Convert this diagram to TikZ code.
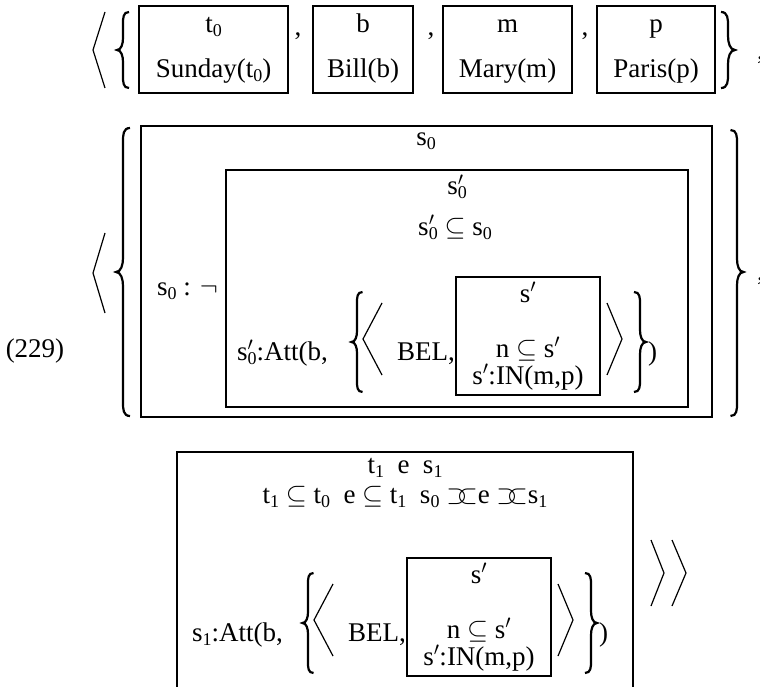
\RequirePackage{fix-cm}
\documentclass[tikz,border=0pt]{standalone}
\usepackage{fontspec}
\setmainfont{Liberation Serif}
\tikzset{
  txt/.style={inner sep=0pt, outer sep=0pt, font=\fontsize{27}{31}\selectfont, anchor=base},
  frame/.style={line width=1.9pt},
  ang/.style={line width=1.2pt, line join=miter},
  brc/.style={line width=2.2pt},
}
\newcommand\braceL[5]{\draw[brc] ({#1+#5},{#2}) .. controls ({#1},{#2}) and ({#1},{#2+#5}) .. ({#1},{#2+2*#5}) -- ({#1},{#3-2*#5}) .. controls ({#1},{#3-#5}) and ({#1-0.3*#5},{#3}) .. ({#1-#5},{#3}) .. controls ({#1-0.3*#5},{#3}) and ({#1},{#3+#5}) .. ({#1},{#3+2*#5}) -- ({#1},{#4-2*#5}) .. controls ({#1},{#4-#5}) and ({#1},{#4}) .. ({#1+#5},{#4});}
\newcommand\braceR[5]{\draw[brc] ({#1-#5},{#2}) .. controls ({#1},{#2}) and ({#1},{#2+#5}) .. ({#1},{#2+2*#5}) -- ({#1},{#3-2*#5}) .. controls ({#1},{#3-#5}) and ({#1+0.3*#5},{#3}) .. ({#1+#5},{#3}) .. controls ({#1+0.3*#5},{#3}) and ({#1},{#3+#5}) .. ({#1},{#3+2*#5}) -- ({#1},{#4-2*#5}) .. controls ({#1},{#4-#5}) and ({#1},{#4}) .. ({#1-#5},{#4});}
\newcommand\ovl{$\supset\mkern-7mu\subset$}
\newcommand\sub[1]{\raisebox{-4pt}{\fontsize{18}{18}\selectfont #1}}
\newcommand\pr{$'$}
\newcommand\spz{s\rlap{\pr}\sub{0}}
\begin{document}
\begin{tikzpicture}[x=1pt,y=-1pt]
\useasboundingbox (0,0) rectangle (760,687);
% ---------- top row ----------
\draw[ang] (105,12) -- (93,50) -- (105,88);
\braceL{123}{12}{50}{88}{6}
\draw[frame] (139,6) rectangle (288,93);
\node[txt] (t0) at (213.5,33) {t\sub{0}};
\node[txt] (sun) at (213.5,78) {Sunday(t\sub{0})};
\node[txt] (c1) at (298,36) {,};
\draw[frame] (313,6) rectangle (413,93);
\node[txt] (b) at (363,33) {b};
\node[txt] (bill) at (363,78) {Bill(b)};
\node[txt] (c2) at (431,36) {,};
\draw[frame] (443,6) rectangle (572,93);
\node[txt] (m) at (507.5,33) {m};
\node[txt] (mary) at (507.5,78) {Mary(m)};
\node[txt] (c3) at (585,36) {,};
\draw[frame] (597,6) rectangle (715,93);
\node[txt] (p) at (656,33) {p};
\node[txt] (paris) at (656,78) {Paris(p)};
\braceR{728}{12}{50}{88}{7}
\node[txt, anchor=base west] (c4) at (757,60) {,};
% ---------- middle ----------
\node[txt] (num) at (35,357) {(229)};
\draw[ang] (105,233) -- (93,273) -- (105,313);
\braceL{123}{128}{272}{416}{7}
\draw[frame] (141,126) rectangle (712,417);
\node[txt] (s0) at (426,146) {s\sub{0}};
\node[txt, anchor=base west] (neg) at (157,295) {s\sub{0} : $\neg$};
\draw[frame] (226,170) rectangle (688,407);
\node[txt] (s0p) at (457,195) {\spz};
\node[txt] (s0sub) at (455,235) {\spz{} $\subseteq$ s\sub{0}};
\node[txt, anchor=base west] (att1) at (237,360) {\spz:Att(b,};
\braceL{357}{292}{342}{392}{5.5}
\draw[ang] (382,303) -- (363,339) -- (382,375);
\node[txt, anchor=base west] (bel1) at (397,360) {BEL,};
\draw[frame] (456,277) rectangle (600,395);
\node[txt] (sp1) at (528,302) {s\pr};
\node[txt] (nsub1) at (528,357) {n $\subseteq$ s\pr};
\node[txt] (in1) at (528,384) {s\pr:IN(m,p)};
\draw[ang] (607,303) -- (622,339) -- (607,375);
\braceR{640}{292}{342}{392}{6}
\node[txt, anchor=base west] (par1) at (648,360) {)};
\braceR{737}{130}{272}{416}{6.5}
\node[txt, anchor=base west] (c5) at (757,280) {,};
% ---------- bottom ----------
\draw[frame] (177,687) -- (177,452) -- (633,452) -- (633,687);
\node[txt] (tes) at (405,473) {t\sub{1}\hspace{0.5em}e\hspace{0.5em}s\sub{1}};
\node[txt] (rel) at (405,503) {t\sub{1} $\subseteq$ t\sub{0}\hspace{0.5em}e $\subseteq$ t\sub{1}\hspace{0.5em}s\sub{0} \ovl e \ovl s\sub{1}};
\node[txt, anchor=base west] (att2) at (192,641) {s\sub{1}:Att(b,};
\braceL{308}{573}{623}{673}{5.5}
\draw[ang] (333,584) -- (314,620) -- (333,656);
\node[txt, anchor=base west] (bel2) at (348,641) {BEL,};
\draw[frame] (407,558) rectangle (551,676);
\node[txt] (sp2) at (479,583) {s\pr};
\node[txt] (nsub2) at (479,638) {n $\subseteq$ s\pr};
\node[txt] (in2) at (479,665) {s\pr:IN(m,p)};
\draw[ang] (558,584) -- (573,620) -- (558,656);
\braceR{591}{573}{623}{673}{6}
\node[txt, anchor=base west] (par2) at (599,641) {)};
\draw[ang] (651,540) -- (664,573) -- (651,606);
\draw[ang] (672,540) -- (686,573) -- (672,606);
\end{tikzpicture}
\end{document}
